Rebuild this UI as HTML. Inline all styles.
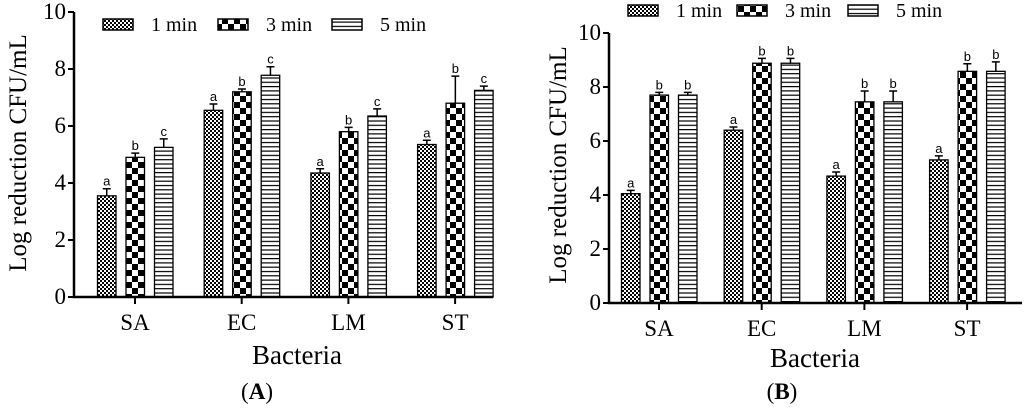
<!DOCTYPE html>
<html><head><meta charset="utf-8"><style>
body{margin:0;background:#fff;}
svg{display:block;font-family:"Liberation Serif",serif;}
.ann{font-family:"Liberation Sans",sans-serif;font-size:13px;}
</style></head><body>
<svg id="s" width="1024" height="408" viewBox="0 0 1024 408">
<defs>
<pattern id="p1" width="4" height="4" patternUnits="userSpaceOnUse"><rect width="4" height="4" fill="#fff"/><rect width="2" height="2" fill="#000"/><rect x="2" y="2" width="2" height="2" fill="#000"/></pattern>
<pattern id="p3" width="12" height="12" patternUnits="userSpaceOnUse"><rect width="12" height="12" fill="#fff"/><rect width="6" height="6" fill="#000"/><rect x="6" y="6" width="6" height="6" fill="#000"/></pattern>
<pattern id="p5" width="4" height="4.3" patternUnits="userSpaceOnUse"><rect width="4" height="4.3" fill="#fff"/><rect y="0" width="4" height="1.2" fill="#000"/></pattern>
</defs>
</svg>
<script>
const categories=["SA","EC","LM","ST"];
const seriesNames=["1 min","3 min","5 min"];
const yTicks=[0,2,4,6,8,10];
const aVals1=[3.55,6.55,4.35,5.35];
const aVals3=[4.9,7.2,5.8,6.8];
const aVals5=[5.25,7.78,6.35,7.25];
const aErr1=[0.25,0.22,0.15,0.15];
const aErr3=[0.15,0.1,0.15,0.95];
const aErr5=[0.3,0.3,0.25,0.15];
const aLetters=[["a","b","c"],["a","b","c"],["a","b","c"],["a","b","c"]];
const bVals1=[4.05,6.4,4.7,5.3];
const bVals3=[7.7,8.88,7.45,8.58];
const bVals5=[7.7,8.88,7.45,8.58];
const bErr1=[0.12,0.12,0.15,0.15];
const bErr3=[0.1,0.18,0.4,0.28];
const bErr5=[0.1,0.18,0.4,0.35];
const bLetters=[["a","b","b"],["a","b","b"],["a","b","b"],["a","b","b"]];

const svg=document.getElementById('s');
const NS="http://www.w3.org/2000/svg";
function mk(tag,attrs,parent,text){const e=document.createElementNS(NS,tag);for(const k in attrs)e.setAttribute(k,attrs[k]);if(text!==undefined)e.textContent=text;(parent||svg).appendChild(e);return e;}
const fills=["url(#p1)","url(#p3)","url(#p5)"];

function chart(cfg){
  const g=mk('g',{});
  
  
  const y=v=>cfg.y0-(v/10)*(cfg.y0-cfg.y10);
  const xc=i=>cfg.c0+i*cfg.step;
  const offs=[-37.5,-9,19.5];
  const vals=[cfg.v1,cfg.v3,cfg.v5], errs=[cfg.e1,cfg.e3,cfg.e5];
  categories.forEach((c,i)=>{
    for(let s=0;s<3;s++){
      const x=xc(i)+offs[s], v=vals[s][i], e=errs[s][i], top=y(v);
      const r=mk('rect',{x:x,y:top,width:18.5,height:cfg.y0-top,fill:fills[s],stroke:'#000','stroke-width':1.3},g);
      
      
      const mx=x+9.25, et=y(v+e);
      const eb=mk('path',{d:`M${mx},${top}V${et}M${mx-4},${et}H${mx+4}`,stroke:'#000','stroke-width':1.5,fill:'none'},g);
      
      
      const t=mk('text',{x:mx,y:et-3,'text-anchor':'middle',class:'ann'},g,cfg.letters[i][s]);
      
      
    }
  });
  const ax=mk('path',{d:`M${cfg.ax},${cfg.y10}V${cfg.y0}H${cfg.xend}`,stroke:'#000','stroke-width':2.5,fill:'none'},g);
  
  
  yTicks.forEach(t=>{
    const ty=y(t);
    mk('line',{x1:cfg.ax-6,x2:cfg.ax,y1:ty,y2:ty,stroke:'#000','stroke-width':2},g);
    const l=mk('text',{x:cfg.ax-8,y:ty+7,'text-anchor':'end','font-size':23},g,String(t));
    
    
  });
  categories.forEach((c,i)=>{
    mk('line',{x1:xc(i),x2:xc(i),y1:cfg.y0,y2:cfg.y0+7,stroke:'#000','stroke-width':2},g);
    const l=mk('text',{x:xc(i),y:cfg.y0+33,'text-anchor':'middle','font-size':23},g,c);
    
    
  });
  const yt=mk('text',{x:0,y:0,'text-anchor':'middle','font-size':25,transform:`translate(${cfg.ytx},${cfg.yty}) rotate(-90)`},g,'Log reduction CFU/mL');
  
  
  const xt=mk('text',{x:cfg.xtx,y:cfg.xty,'text-anchor':'middle','font-size':27},g,'Bacteria');
  
  
  const pl=mk('text',{x:cfg.plx,y:cfg.ply,'text-anchor':'middle','font-size':23},g);
  
  
  mk('tspan',{},pl,'(');mk('tspan',{'font-weight':'bold'},pl,cfg.panel);mk('tspan',{},pl,')');
  seriesNames.forEach((n,s)=>{
    const le=mk('g',{},g);
    
    
    mk('rect',{x:cfg.legX[s],y:cfg.legY,width:30,height:11,fill:fills[s],stroke:'#000','stroke-width':1.5},le);
    mk('text',{x:cfg.legX[s]+48,y:cfg.legY+12,'font-size':20},le,n);
  });
}
chart({name:'chart-a',panel:'A',y0:297,y10:12,ax:74,xend:493,c0:135,step:106.7,
  v1:aVals1,v3:aVals3,v5:aVals5,e1:aErr1,e3:aErr3,e5:aErr5,letters:aLetters,
  ytx:26,yty:153,xtx:297,xty:364,plx:257,ply:399,legX:[103,218,332],legY:19});
chart({name:'chart-b',panel:'B',y0:303,y10:33,ax:609,xend:1022,c0:659,step:102.7,
  v1:bVals1,v3:bVals3,v5:bVals5,e1:bErr1,e3:bErr3,e5:bErr5,letters:bLetters,
  ytx:566,yty:165,xtx:815,xty:367,plx:782,ply:399,legX:[628,737,848],legY:5});
</script>
</body></html>
